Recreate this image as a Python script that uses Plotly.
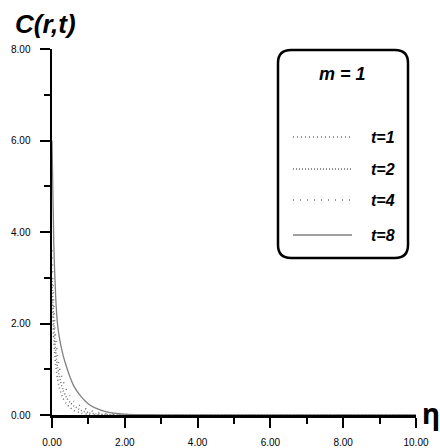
import plotly.graph_objects as go

# ---- data ----
eta = [0, 0.05, 0.1, 0.15, 0.2, 0.3, 0.4, 0.5, 0.6, 0.8, 1.0, 1.2, 1.5, 2.0, 2.5, 3.0, 4.0, 6.0, 8.0, 10.0]
c_t1 = [2.6, 1.6, 1.1, 0.8, 0.6, 0.37, 0.24, 0.16, 0.10, 0.04, 0.015, 0.005, 0.001, 0, 0, 0, 0, 0, 0, 0]
c_t2 = [3.0, 2.0, 1.4, 1.05, 0.85, 0.55, 0.38, 0.27, 0.20, 0.10, 0.05, 0.025, 0.01, 0.002, 0, 0, 0, 0, 0, 0]
c_t4 = [3.6, 2.4, 1.7, 1.3, 1.05, 0.75, 0.55, 0.41, 0.30, 0.19, 0.11, 0.065, 0.03, 0.01, 0.003, 0, 0, 0, 0, 0]
c_t8 = [6.0, 3.7, 2.6, 2.0, 1.7, 1.32, 1.05, 0.82, 0.63, 0.40, 0.24, 0.15, 0.07, 0.02, 0.008, 0.004, 0.001, 0, 0, 0]

series_names = ["t=1", "t=2", "t=4", "t=8"]
series_vals = [c_t1, c_t2, c_t4, c_t8]
x_ticks = [0, 2, 4, 6, 8, 10]
y_ticks = [0, 2, 4, 6, 8]

# ---- styles ----
dashes = ["1px,3px", "1px,2px", "1px,6px", "solid"]
colors = ["#707070", "#707070", "#707070", "#808080"]
widths = [1.5, 1.5, 1.5, 1.3]

W, H = 440, 448

fig = go.Figure()
for name, vals, d, c, w in zip(series_names, series_vals, dashes, colors, widths):
    fig.add_trace(go.Scatter(x=eta, y=vals, mode="lines", name=name,
                             line=dict(color=c, width=w, dash=d, shape="spline", smoothing=0.6),
                             showlegend=False, hoverinfo="skip"))

axis_common = dict(
    showline=True, linewidth=2.5, linecolor="black", mirror=False,
    showgrid=False, zeroline=False, automargin=False,
    ticks="outside", ticklen=10, tickwidth=2, tickcolor="black",
    tickformat=".2f",
    tickfont=dict(family="Liberation Sans, Arial", size=10, color="black"),
    minor=dict(ticks="outside", ticklen=6, tickwidth=2, tickcolor="black", dtick=1, showgrid=False),
    fixedrange=True,
)

fig.update_xaxes(range=[0, 10], tickvals=x_ticks, ticklabelstandoff=6, **axis_common)
fig.update_yaxes(range=[0, 8], tickvals=y_ticks, ticklabelstandoff=7, **axis_common)

# plot area in viewport pixels: x 52..416, y 49..415
PL, PR, PT, PB = 52, 416, 49, 415
L, R, T, B = PL, W - PR, PT, H - PB
pw, ph = PR - PL, PB - PT

def px(xp):
    return (xp - PL) / pw

def py(yp):
    return (PB - yp) / ph

annotations = [
    dict(text="<b><i>C(r,t)</i></b>", x=px(13), y=py(24), xref="paper", yref="paper",
         xanchor="left", yanchor="middle", showarrow=False,
         font=dict(family="Liberation Sans, Arial", size=26, color="black")),
    dict(text="<b>η</b>", x=px(431), y=py(413), xref="paper", yref="paper",
         xanchor="center", yanchor="middle", showarrow=False,
         font=dict(family="Noto Sans, DejaVu Sans", size=28, color="black")),
    dict(text="<b><i>m = 1</i></b>", x=px(342), y=py(74), xref="paper", yref="paper",
         xanchor="center", yanchor="middle", showarrow=False,
         font=dict(family="Liberation Sans, Arial", size=18, color="black")),
]

# rounded legend box
x0, x1, y0, y1 = 278, 408, 50, 258
r = 13
path = (f"M {px(x0 + r)},{py(y0)} L {px(x1 - r)},{py(y0)} Q {px(x1)},{py(y0)} {px(x1)},{py(y0 + r)} "
        f"L {px(x1)},{py(y1 - r)} Q {px(x1)},{py(y1)} {px(x1 - r)},{py(y1)} "
        f"L {px(x0 + r)},{py(y1)} Q {px(x0)},{py(y1)} {px(x0)},{py(y1 - r)} "
        f"L {px(x0)},{py(y0 + r)} Q {px(x0)},{py(y0)} {px(x0 + r)},{py(y0)} Z")
shapes = [dict(type="path", path=path, xref="paper", yref="paper",
               line=dict(color="black", width=2.5), fillcolor="white", layer="above")]

legend_y = [137, 169, 200, 235]
for name, d, c, yy in zip(series_names, dashes, colors, legend_y):
    shapes.append(dict(type="line", xref="paper", yref="paper",
                       x0=px(293), x1=px(352), y0=py(yy), y1=py(yy),
                       line=dict(color=c, width=1.4, dash=d), layer="above"))
    annotations.append(dict(text=f"<b><i>{name}</i></b>", x=px(383), y=py(yy),
                            xref="paper", yref="paper", xanchor="center", yanchor="middle",
                            showarrow=False,
                            font=dict(family="Liberation Sans, Arial", size=16, color="black")))

fig.update_layout(
    width=W, height=H,
    margin=dict(l=L, r=R, t=T, b=B, pad=0),
    paper_bgcolor="white", plot_bgcolor="white",
    showlegend=False, hovermode=False,
    annotations=annotations, shapes=shapes,
)

fig.write_html("out.html",
               config={"displayModeBar": False, "staticPlot": True},
               post_script="document.body.style.margin='0';document.body.style.overflow='hidden';")
